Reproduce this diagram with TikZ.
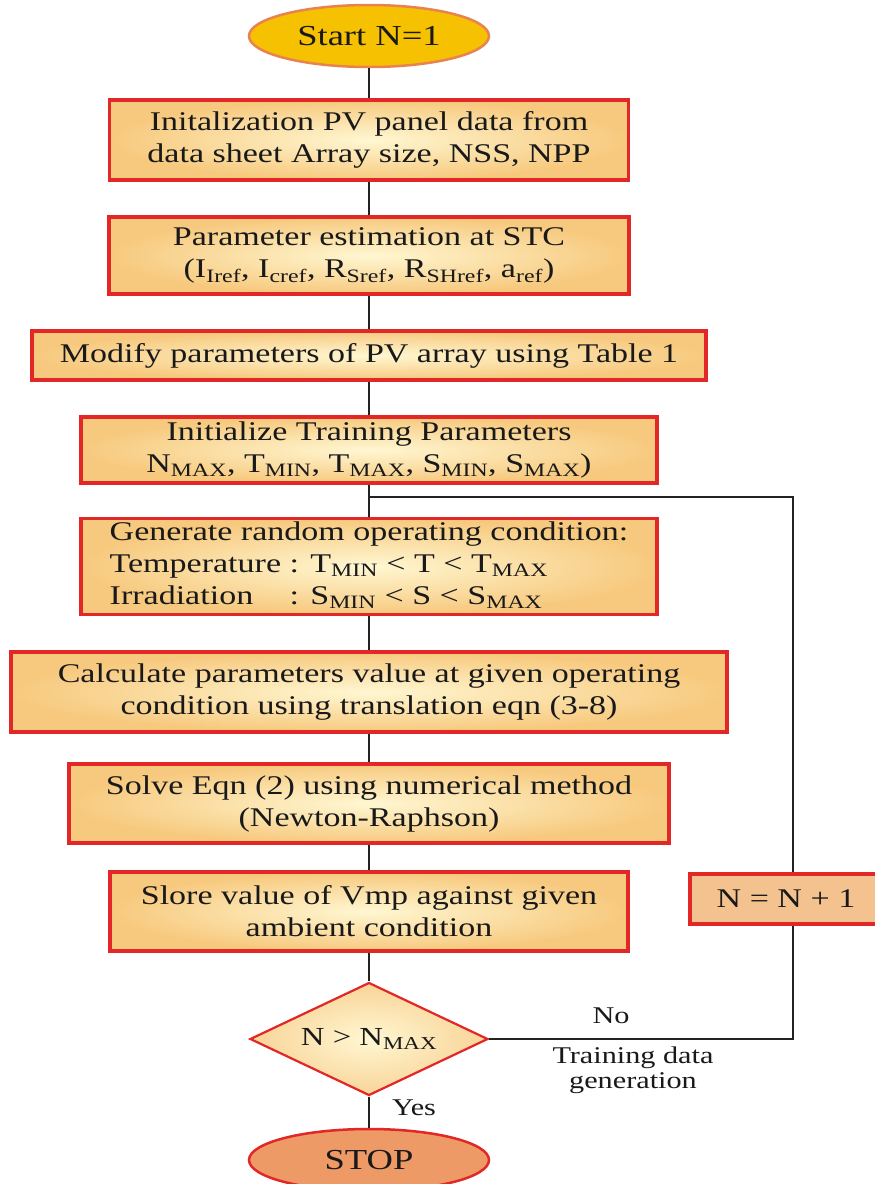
\documentclass[tikz,border=0pt]{standalone}
\usepackage{fontspec}
\setmainfont{Liberation Serif}[FakeStretch=1.26]
\usetikzlibrary{shapes.geometric}
\definecolor{boxred}{HTML}{E22727}
\definecolor{boxin}{HTML}{FFF7D2}
\definecolor{boxout}{HTML}{F7C97E}
\definecolor{startfill}{HTML}{F6C100}
\definecolor{startline}{HTML}{E8834F}
\definecolor{stopfill}{HTML}{EE9A66}
\definecolor{nnfill}{HTML}{F4C28F}
\definecolor{linec}{HTML}{222222}
\tikzset{
  procbox/.style={draw=boxred, line width=3.2pt, inner color=boxin, outer color=boxout,
    align=center, font=\fontsize{27}{32}\selectfont, text=black!90, inner sep=0pt},
  term/.style={ellipse, draw, line width=2.5pt, font=\fontsize{29}{32}\selectfont,
    minimum width=240pt, minimum height=62pt, inner sep=0pt, text=black!90},
  conn/.style={draw=linec, line width=2.6pt},
  lbl/.style={font=\fontsize{24}{25}\selectfont, align=center, text=black!90}
}
\begin{document}
\begin{tikzpicture}[x=1pt,y=1pt]
\clip (0,0) rectangle (875,-1184);
\fill[white] (0,0) rectangle (875,-1184);
\def\cx{369}
\node[term, draw=startline, fill=startfill] (start) at (\cx,-36) {Start N=1};
\node[procbox, minimum width=519pt, minimum height=80pt] (b1) at (\cx,-140)
  {Initalization PV panel data from\\data sheet Array size, NSS, NPP};
\node[procbox, minimum width=520pt, minimum height=77pt] (b2) at (\cx,-255.5)
  {Parameter estimation at STC\\(I\textsubscript{Iref}, I\textsubscript{cref}, R\textsubscript{Sref}, R\textsubscript{SHref}, a\textsubscript{ref})};
\node[procbox, minimum width=674pt, minimum height=49pt] (b3) at (\cx,-355.5)
  {Modify parameters of PV array using Table 1};
\node[procbox, minimum width=576pt, minimum height=66pt] (b4) at (\cx,-450)
  {Initialize Training Parameters\\N\textsubscript{MAX}, T\textsubscript{MIN}, T\textsubscript{MAX}, S\textsubscript{MIN}, S\textsubscript{MAX})};
\node[procbox, minimum width=576pt, minimum height=89pt, align=left] (b5) at (\cx,-566.5)
  {\begin{tabular}{@{}l@{}l@{}}
   \multicolumn{2}{@{}l@{}}{Generate random operating condition:}\\
   Temperature & ~: T\textsubscript{MIN} < T < T\textsubscript{MAX}\\
   Irradiation & ~: S\textsubscript{MIN} < S < S\textsubscript{MAX}
   \end{tabular}};
\node[procbox, minimum width=716pt, minimum height=80pt] (b6) at (\cx,-692)
  {Calculate parameters value at given operating\\condition using translation eqn (3-8)};
\node[procbox, minimum width=600pt, minimum height=79pt] (b7) at (\cx,-803.5)
  {Solve Eqn (2) using numerical method\\(Newton-Raphson)};
\node[procbox, minimum width=518pt, minimum height=79pt] (b8) at (\cx,-911.5)
  {Slore value of Vmp against given\\ambient condition};
\node[diamond, draw=boxred, line width=2.2pt, inner color=boxin, outer color=boxout!80!white,
  minimum width=238pt, minimum height=113pt, inner sep=0pt, aspect=2.1, text=black!90,
  font=\fontsize{26}{28}\selectfont] (dia) at (\cx,-1039) {N > N\textsubscript{MAX}};
\node[term, draw=boxred, fill=stopfill] (stop) at (\cx,-1160) {STOP};
\node[procbox, fill=nnfill, inner color=nnfill, outer color=nnfill, minimum width=206pt, minimum height=50pt] (nn) at (793,-899)
  {N = N + 1\hspace*{14pt}};
\coordinate (j) at (\cx,-497);
\node[lbl] (no) at (611,-1016) {No};
\node[lbl] (tdg) at (633,-1070) {Training data\\generation};
\node[lbl] (yes) at (414,-1108) {Yes};
\draw[conn] (start) -- (b1);
\draw[conn] (b1) -- (b2);
\draw[conn] (b2) -- (b3);
\draw[conn] (b3) -- (b4);
\draw[conn] (b4) -- (b5);
\draw[conn] (b5) -- (b6);
\draw[conn] (b6) -- (b7);
\draw[conn] (b7) -- (b8);
\draw[conn] (b8) -- (dia);
\draw[conn] (dia) -- (stop);
\draw[conn] (dia.east) -| (nn.south);
\draw[conn] (nn.north) |- (j);
\end{tikzpicture}
\end{document}
